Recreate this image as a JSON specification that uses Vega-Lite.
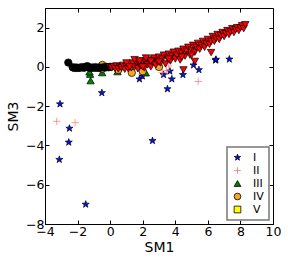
{
"$schema":"https://vega.github.io/schema/vega-lite/v6.json",
"width":228,"height":216,
"autosize":{"type":"none"},
"padding":{"left":45,"top":8,"right":15,"bottom":42},
"data":{"values":[
{"x":-3.08,"y":-1.89,"s":"I"},{"x":-2.5,"y":-3.13,"s":"I"},{"x":-2.54,"y":-3.84,"s":"I"},{"x":-3.12,"y":-4.72,"s":"I"},{"x":-1.5,"y":-7.0,"s":"I"},{"x":-0.51,"y":-1.32,"s":"I"},{"x":2.6,"y":-3.76,"s":"I"},{"x":1.8,"y":-0.62,"s":"I"},{"x":1.98,"y":-0.47,"s":"I"},{"x":3.28,"y":-0.4,"s":"I"},{"x":3.52,"y":-1.12,"s":"I"},{"x":3.67,"y":-0.22,"s":"I"},{"x":3.79,"y":-0.62,"s":"I"},{"x":4.47,"y":-0.4,"s":"I"},{"x":5.12,"y":0.09,"s":"I"},{"x":5.45,"y":-0.15,"s":"I"},{"x":6.47,"y":0.34,"s":"I"},{"x":6.5,"y":0.38,"s":"I"},{"x":7.32,"y":0.39,"s":"I"},
{"x":-3.28,"y":-2.77,"s":"II"},{"x":-2.15,"y":-2.84,"s":"II"},{"x":5.41,"y":-0.74,"s":"II"},{"x":3.2,"y":-0.28,"s":"II"},{"x":3.45,"y":-0.18,"s":"II"},{"x":3.6,"y":0.05,"s":"II"},
{"x":-1.23,"y":-0.37,"s":"III"},{"x":-1.2,"y":-0.7,"s":"III"},{"x":-1.27,"y":-0.25,"s":"III"},{"x":-0.49,"y":-0.29,"s":"III"},{"x":0.45,"y":-0.24,"s":"III"},{"x":2.19,"y":-0.3,"s":"III"},
{"x":-0.48,"y":0.1,"s":"IV"},{"x":-0.5,"y":-0.1,"s":"IV"},{"x":1.33,"y":-0.3,"s":"IV"},{"x":2.0,"y":-0.22,"s":"IV"},{"x":3.0,"y":0.0,"s":"IV"},{"x":0.5,"y":-0.15,"s":"IV"},
{"x":-2.57,"y":0.22,"s":"VI"},{"x":-2.3,"y":-0.02,"s":"VI"},{"x":-2.2,"y":-0.05,"s":"VI"},{"x":-2.1,"y":-0.03,"s":"VI"},{"x":-2.0,"y":-0.05,"s":"VI"},{"x":-1.9,"y":-0.04,"s":"VI"},{"x":-1.8,"y":-0.03,"s":"VI"},{"x":-1.7,"y":-0.02,"s":"VI"},{"x":-1.6,"y":-0.04,"s":"VI"},{"x":-1.5,"y":0.0,"s":"VI"},{"x":-1.4,"y":0.04,"s":"VI"},{"x":-1.3,"y":-0.03,"s":"VI"},{"x":-1.2,"y":-0.05,"s":"VI"},{"x":-1.1,"y":-0.03,"s":"VI"},{"x":-1.0,"y":-0.04,"s":"VI"},{"x":-0.9,"y":-0.02,"s":"VI"},{"x":-0.8,"y":-0.05,"s":"VI"},{"x":-0.7,"y":-0.03,"s":"VI"},{"x":-0.6,"y":-0.04,"s":"VI"},{"x":-0.4,"y":-0.02,"s":"VI"},{"x":-0.3,"y":-0.03,"s":"VI"},{"x":-0.2,"y":0.0,"s":"VI"},{"x":-0.1,"y":-0.02,"s":"VI"},{"x":0.0,"y":0.0,"s":"VI"},
{"x":0.0,"y":0.0,"s":"VII"},{"x":0.1,"y":-0.05,"s":"VII"},{"x":0.2,"y":0.02,"s":"VII"},{"x":0.3,"y":-0.08,"s":"VII"},{"x":0.4,"y":0.05,"s":"VII"},{"x":0.5,"y":-0.1,"s":"VII"},{"x":0.6,"y":0.0,"s":"VII"},{"x":0.7,"y":-0.05,"s":"VII"},{"x":0.8,"y":0.08,"s":"VII"},{"x":0.9,"y":-0.12,"s":"VII"},{"x":1.0,"y":0.03,"s":"VII"},{"x":1.1,"y":-0.08,"s":"VII"},{"x":1.2,"y":0.12,"s":"VII"},{"x":1.3,"y":-0.05,"s":"VII"},{"x":1.4,"y":0.2,"s":"VII"},{"x":1.5,"y":0.0,"s":"VII"},{"x":1.6,"y":0.25,"s":"VII"},{"x":1.7,"y":-0.1,"s":"VII"},{"x":1.8,"y":0.15,"s":"VII"},{"x":1.9,"y":0.05,"s":"VII"},{"x":2.0,"y":0.3,"s":"VII"},{"x":2.1,"y":-0.05,"s":"VII"},{"x":2.2,"y":0.2,"s":"VII"},{"x":2.3,"y":0.1,"s":"VII"},{"x":2.4,"y":0.35,"s":"VII"},{"x":2.5,"y":0.0,"s":"VII"},{"x":2.6,"y":0.25,"s":"VII"},{"x":2.7,"y":0.45,"s":"VII"},{"x":2.8,"y":0.1,"s":"VII"},{"x":2.9,"y":0.3,"s":"VII"},{"x":3.0,"y":0.5,"s":"VII"},{"x":3.1,"y":0.2,"s":"VII"},{"x":3.2,"y":0.4,"s":"VII"},{"x":3.3,"y":0.6,"s":"VII"},{"x":3.4,"y":0.15,"s":"VII"},{"x":3.5,"y":0.45,"s":"VII"},{"x":3.6,"y":0.65,"s":"VII"},{"x":3.7,"y":0.3,"s":"VII"},{"x":3.8,"y":0.55,"s":"VII"},{"x":3.9,"y":0.75,"s":"VII"},{"x":4.0,"y":0.4,"s":"VII"},{"x":4.1,"y":0.6,"s":"VII"},{"x":4.2,"y":0.8,"s":"VII"},{"x":4.3,"y":0.35,"s":"VII"},{"x":4.4,"y":0.7,"s":"VII"},{"x":4.5,"y":0.9,"s":"VII"},{"x":4.6,"y":0.55,"s":"VII"},{"x":4.7,"y":0.8,"s":"VII"},{"x":4.8,"y":1.0,"s":"VII"},{"x":4.9,"y":0.6,"s":"VII"},{"x":5.0,"y":0.85,"s":"VII"},{"x":5.1,"y":1.1,"s":"VII"},{"x":5.2,"y":0.75,"s":"VII"},{"x":5.3,"y":1.0,"s":"VII"},{"x":5.4,"y":1.2,"s":"VII"},{"x":5.5,"y":0.9,"s":"VII"},{"x":5.6,"y":1.1,"s":"VII"},{"x":5.7,"y":1.3,"s":"VII"},{"x":5.8,"y":1.0,"s":"VII"},{"x":5.9,"y":1.2,"s":"VII"},{"x":6.0,"y":1.4,"s":"VII"},{"x":6.1,"y":1.15,"s":"VII"},{"x":6.2,"y":1.3,"s":"VII"},{"x":6.3,"y":1.55,"s":"VII"},{"x":6.4,"y":1.3,"s":"VII"},{"x":6.5,"y":1.45,"s":"VII"},{"x":6.6,"y":1.65,"s":"VII"},{"x":6.7,"y":1.4,"s":"VII"},{"x":6.8,"y":1.6,"s":"VII"},{"x":6.9,"y":1.75,"s":"VII"},{"x":7.0,"y":1.55,"s":"VII"},{"x":7.1,"y":1.7,"s":"VII"},{"x":7.2,"y":1.85,"s":"VII"},{"x":7.3,"y":1.65,"s":"VII"},{"x":7.4,"y":1.8,"s":"VII"},{"x":7.5,"y":1.95,"s":"VII"},{"x":7.6,"y":1.75,"s":"VII"},{"x":7.7,"y":1.9,"s":"VII"},{"x":7.8,"y":2.0,"s":"VII"},{"x":7.9,"y":1.85,"s":"VII"},{"x":8.0,"y":2.0,"s":"VII"},{"x":8.1,"y":2.1,"s":"VII"},{"x":8.2,"y":1.95,"s":"VII"},{"x":8.3,"y":2.15,"s":"VII"},
{"x":1.5,"y":0.37,"s":"VII"},{"x":6.2,"y":0.73,"s":"VII"},{"x":5.2,"y":0.28,"s":"VII"},{"x":4.5,"y":-0.15,"s":"VII"},{"x":1.0,"y":0.2,"s":"VII"},{"x":1.2,"y":0.0,"s":"VII"},{"x":2.0,"y":0.0,"s":"VII"},{"x":2.5,"y":0.3,"s":"VII"},{"x":1.8,"y":0.3,"s":"VII"},{"x":2.2,"y":0.45,"s":"VII"},{"x":3.0,"y":0.25,"s":"VII"},{"x":3.6,"y":0.4,"s":"VII"},{"x":4.4,"y":0.5,"s":"VII"},{"x":5.0,"y":0.6,"s":"VII"}
]},
"layer":[
{"mark":{"type":"point","filled":true,"size":55,"strokeWidth":0.7,"opacity":1},
"encoding":{
"x":{"field":"x","type":"quantitative","scale":{"domain":[-4,10],"nice":false},"axis":{"values":[-4,-2,0,2,4,6,8,10],"grid":false,"tickSize":-4,"tickColor":"black","domainColor":"black","labelColor":"black","labelFontSize":12.5,"labelPadding":5,"title":"SM1","titleFontSize":14,"titleFontWeight":"normal","titleColor":"black","titlePadding":3,"labelFlush":false}},
"y":{"field":"y","type":"quantitative","scale":{"domain":[-8,3],"nice":false},"axis":{"values":[-8,-6,-4,-2,0,2],"grid":false,"tickSize":-4,"tickColor":"black","domainColor":"black","labelColor":"black","labelFontSize":12.5,"labelPadding":5,"title":"SM3","titleFontSize":14,"titleFontWeight":"normal","titleColor":"black","titlePadding":5,"labelFlush":false}},
"shape":{"field":"s","type":"nominal","scale":{"domain":["I","II","III","IV","V","VI","VII"],"range":["M0,-1L0.235,-0.324L0.951,-0.309L0.38,0.124L0.588,0.809L0,0.4L-0.588,0.809L-0.38,0.124L-0.951,-0.309L-0.235,-0.324Z","M-1,0H1M0,-1V1","triangle-up","circle","square","circle","triangle-down"]},"legend":{"values":["I","II","III","IV","V"]}},
"fill":{"field":"s","type":"nominal","scale":{"domain":["I","II","III","IV","V","VI","VII"],"range":["#0010ff","transparent","#007f00","#f5a623","#ffff00","#000000","#ff0000"]},"legend":{"values":["I","II","III","IV","V"]}},
"stroke":{"field":"s","type":"nominal","scale":{"domain":["I","II","III","IV","V","VI","VII"],"range":["#000000","#ff7070","#000000","#000000","#000000","#000000","#000000"]},"legend":{"values":["I","II","III","IV","V"]}}
}},
{"mark":{"type":"point","opacity":0},
"encoding":{
"x":{"field":"x","type":"quantitative","axis":{"orient":"top","values":[-4,-2,0,2,4,6,8,10],"labels":false,"domain":false,"grid":false,"tickSize":-4,"tickColor":"black","title":null}},
"y":{"field":"y","type":"quantitative","axis":{"orient":"right","values":[-8,-6,-4,-2,0,2],"labels":false,"domain":false,"grid":false,"tickSize":-4,"tickColor":"black","title":null}}
}}
],
"resolve":{"axis":{"x":"independent","y":"independent"}},
"config":{"view":{"stroke":"black","strokeWidth":1},"font":"DejaVu Sans","legend":{"orient":"bottom-right","offset":4,"title":null,"strokeColor":"#777777","strokeWidth":1.5,"fillColor":"white","padding":5,"labelFontSize":11,"labelColor":"black","symbolSize":45,"rowPadding":1,"labelOffset":10,"symbolStrokeWidth":0.8}}
}
